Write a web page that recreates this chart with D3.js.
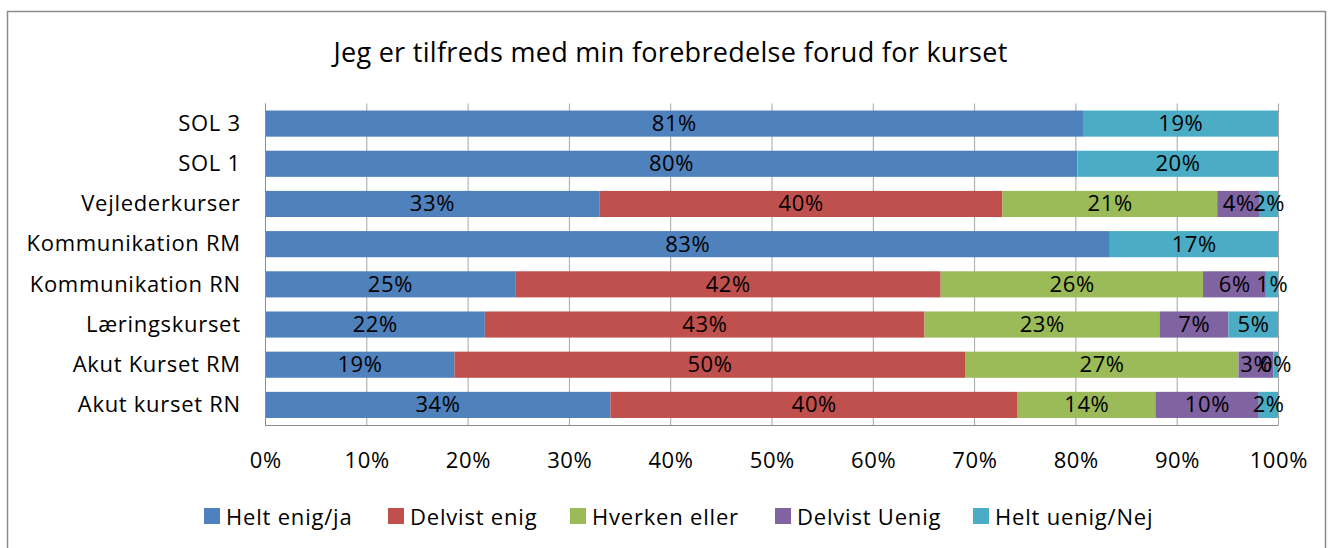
<!DOCTYPE html>
<html><head><meta charset="utf-8">
<script src="https://cdn.jsdelivr.net/npm/d3@7"></script>
<style>body{margin:0;background:#fff;}svg{display:block;font-family:"Open Sans",sans-serif;}</style>
</head><body>
<svg id="c" width="1331" height="548"></svg>
<script>
const categories = ["SOL 3","SOL 1","Vejlederkurser","Kommunikation RM","Kommunikation RN","Læringskurset","Akut Kurset RM","Akut kurset RN"];
const seriesNames = ["Helt enig/ja","Delvist enig","Hverken eller","Delvist Uenig","Helt uenig/Nej"];
const seriesColors = ["#4F81BD","#C0504D","#9BBB59","#8064A2","#4BACC6"];
const heltEnig   = [80.75, 80.2, 33.0, 83.4, 24.7, 21.7, 18.7, 34.1];
const delvistEnig= [0, 0, 39.8, 0, 42.0, 43.4, 50.4, 40.2];
const hverken    = [0, 0, 21.2, 0, 25.9, 23.2, 27.0, 13.6];
const delvistUenig=[0, 0, 4.2, 0, 6.2, 6.8, 3.45, 10.2];
const heltUenig  = [19.25, 19.8, 1.8, 16.6, 1.2, 4.9, 0.45, 1.9];
const tickValues = [0,10,20,30,40,50,60,70,80,90,100];
const title = "Jeg er tilfreds med min forebredelse forud for kurset";

const FONT = "'Open Sans',sans-serif";
const svg = d3.select("#c");
svg.append("rect").attr("x",7.5).attr("y",11.5).attr("width",1318).attr("height",560)
  .attr("fill","none").attr("stroke","#8c8c8c").attr("stroke-width",1.5);

const x = d3.scaleLinear().domain([0,100]).range([265,1278]);
const y = d3.scaleBand().domain(categories).range([103.5,425]).paddingInner(0.35).paddingOuter(0.175);

svg.append("g").selectAll("line").data(tickValues).join("line")
  .attr("x1",d=>x(d)+0.5).attr("x2",d=>x(d)+0.5).attr("y1",103.5).attr("y2",425)
  .attr("stroke","#a6a6a6").attr("stroke-width",1);

const table = categories.map((c,i)=>({cat:c, v:[heltEnig[i],delvistEnig[i],hverken[i],delvistUenig[i],heltUenig[i]]}));
const stack = d3.stack().keys([0,1,2,3,4]).value((d,k)=>d.v[k]);
const layers = stack(table);

const g = svg.append("g");
layers.forEach((layer,k)=>{
  g.append("g").selectAll("rect").data(layer.filter(d=>d[1]-d[0]>0)).join("rect")
    .attr("x",d=>x(d[0])).attr("width",d=>x(d[1])-x(d[0]))
    .attr("y",d=>y(d.data.cat)).attr("height",y.bandwidth())
    .attr("fill",seriesColors[k]);
});
layers.forEach((layer,k)=>{
  g.append("g").selectAll("text").data(layer.filter(d=>d[1]-d[0]>0)).join("text")
    .attr("x",d=>(x(d[0])+x(d[1]))/2+0.3).attr("y",d=>y(d.data.cat)+y.bandwidth()/2)
    .attr("dy","0.34em").attr("text-anchor","middle")
    .attr("font-size",22).attr("letter-spacing","0.6px").attr("fill","#000")
    .text(d=>Math.round(d[1]-d[0])+"%");
});

svg.append("line").attr("x1",265.5).attr("x2",265.5).attr("y1",103.5).attr("y2",425.5).attr("stroke","#8c8c8c");
const xAxis = d3.axisBottom(x).tickValues(tickValues).tickFormat(d=>d+"%").tickSize(0).tickPadding(27);
const ax = svg.append("g").attr("transform","translate(0,425.5)").call(xAxis);
ax.select(".domain").attr("stroke","#8c8c8c").attr("d","M265,0H1278.5");
ax.selectAll("text").attr("font-size",22).attr("letter-spacing","0.6px").attr("dx","0.3").attr("fill","#000").attr("font-family",FONT);

const yAxis = d3.axisLeft(y).tickSize(0).tickPadding(25);
const ay = svg.append("g").attr("transform","translate(265,0)").call(yAxis);
ay.select(".domain").remove();
ay.selectAll("text").attr("font-size",22).attr("letter-spacing","0.7px").attr("dx","0.7").attr("dy","0.33em")
  .attr("fill","#000").attr("font-family",FONT);

svg.append("text").attr("x",670.5).attr("y",62).attr("text-anchor","middle")
  .attr("font-size",27).attr("letter-spacing","0.3px").attr("fill","#000").text(title);

const legX = [204,388,570,775,973];
const leg = svg.append("g").selectAll("g").data(seriesNames).join("g")
  .attr("transform",(d,i)=>`translate(${legX[i]},508)`);
leg.append("rect").attr("width",16).attr("height",16).attr("fill",(d,i)=>seriesColors[i]);
leg.append("text").attr("x",22).attr("y",17).attr("font-size",22).attr("letter-spacing","0.8px").attr("fill","#000").text(d=>d);
</script>
</body></html>
